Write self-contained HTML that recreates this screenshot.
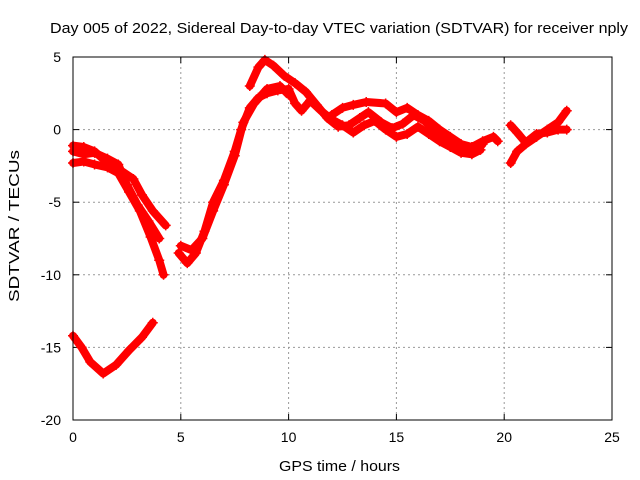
<!DOCTYPE html>
<html><head><meta charset="utf-8"><style>
body{margin:0;background:#fff}
svg{display:block;font-family:"Liberation Sans",sans-serif}
</style></head><body>
<svg id="chart" width="640" height="480">
<text x="50" y="33" font-size="15" textLength="578" lengthAdjust="spacingAndGlyphs">Day 005 of 2022, Sidereal Day-to-day VTEC variation (SDTVAR) for receiver nply</text>
<text x="279" y="471" font-size="15" textLength="121" lengthAdjust="spacingAndGlyphs">GPS time / hours</text>
<text transform="translate(19,302) rotate(-90)" font-size="15" textLength="152" lengthAdjust="spacingAndGlyphs">SDTVAR / TECUs</text>
<g id="grid"></g><g id="ticks"></g><g id="marks"></g>
<rect x="73" y="57" width="539" height="363" fill="none" stroke="#000" stroke-width="1"/>
</svg>
<script>
const xTicks=[0,5,10,15,20,25];
const yTicks=[5,0,-5,-10,-15,-20];
const trackA=[[0,-14.2],[0.4,-15],[0.8,-16],[1.4,-16.8],[2,-16.2],[2.6,-15.2],[3.2,-14.3],[3.7,-13.3]];
const trackB=[[0,-1.1],[0.5,-1.2],[1,-1.5],[1.6,-2.3],[2.2,-2.8],[2.8,-3.4],[3.2,-4.5],[3.7,-5.6],[4.3,-6.6]];
const trackB2=[[0,-2.3],[0.5,-2.2],[1,-2.4],[1.6,-2.6],[2.1,-3],[2.6,-4.3],[3.1,-5.6],[3.6,-7.4],[4.0,-9],[4.2,-10]];
const trackB3=[[0,-1.5],[0.5,-1.7],[1,-1.6],[1.6,-2],[2.1,-2.4],[2.5,-3.8],[3,-5.2],[3.5,-6.3],[4,-7.5]];
const trackD=[[4.9,-8.5],[5.3,-9.2],[5.7,-8.5],[6.1,-7],[6.5,-5],[7,-3.5],[7.5,-1.5],[7.8,0],[8.2,1.5],[8.6,2.2],[9,2.5],[9.5,2.7],[10,2.8],[10.3,1.8],[10.6,1.3],[11,2],[11.5,1.3],[12,0.7],[12.5,0.3],[13,-0.2],[13.5,0.3],[14,0.6],[14.5,0],[15,-0.5],[15.5,-0.3],[16,0.2],[16.5,-0.3],[17,-0.8],[17.5,-1.2],[18,-1.6],[18.5,-1.7],[18.9,-1.4]];
const trackD2=[[5,-8],[5.5,-8.3],[6,-7.5],[6.5,-5.6],[7,-3.8],[7.5,-1.8],[7.9,0.5],[8.4,1.8],[9,2.8],[9.6,3],[10,2.4]];
const trackC=[[8.2,3],[8.6,4.3],[8.9,4.8],[9.3,4.4],[9.8,3.7],[10.3,3.2],[10.8,2.6],[11.3,1.7],[11.8,0.8],[12.3,0.2],[12.8,0.3],[13.3,0.8],[13.7,1.2],[14.3,0.5],[14.8,0.1],[15.3,0.4],[15.8,1],[16.3,0.6],[16.8,-0.1],[17.3,-0.7],[17.8,-1.2],[18.3,-1.5],[18.8,-1.3],[19,-1]];
const trackE=[[12,1],[12.5,1.5],[13,1.7],[13.6,1.9],[14.5,1.8],[15,1.2],[15.5,1.5],[16,1],[16.5,0.6],[17,0],[17.5,-0.5],[18,-1],[18.5,-1.2],[19,-0.8],[19.5,-0.5],[19.7,-0.8]];
const trackF=[[20.3,-2.3],[20.6,-1.5],[21,-1],[21.5,-0.5],[22,0],[22.5,0.5],[22.9,1.3]];
const trackG=[[20.3,0.3],[20.6,-0.2],[21,-0.9],[21.5,-0.3],[22,-0.2],[22.5,0],[22.9,0]];
const tracks=[trackA,trackB,trackB2,trackB3,trackD,trackD2,trackC,trackE,trackF,trackG];
const NS='http://www.w3.org/2000/svg';
const X=h=>73+h*539/25, Y=v=>57+(5-v)*363/25;
const g=document.getElementById('grid'),t=document.getElementById('ticks'),m=document.getElementById('marks');
function el(n,a,p){const e=document.createElementNS(NS,n);for(const k in a)e.setAttribute(k,a[k]);p.appendChild(e);return e;}
xTicks.forEach(v=>{const x=X(v);
 if(v>0&&v<25){const l=el('line',{x1:x,x2:x,y1:57,y2:420,stroke:'#999','stroke-dasharray':'2,3'},g);}
 el('line',{x1:x,x2:x,y1:420,y2:414,stroke:'#000'},t);el('line',{x1:x,x2:x,y1:57,y2:63,stroke:'#000'},t);
 const tx=el('text',{x:x,y:442,'font-size':14,'text-anchor':'middle'},t);tx.textContent=v;
 });
yTicks.forEach(v=>{const y=Y(v);
 if(v<5&&v>-20){const l=el('line',{x1:73,x2:612,y1:y,y2:y,stroke:'#999','stroke-dasharray':'2,3'},g);}
 el('line',{x1:73,x2:79,y1:y,y2:y,stroke:'#000'},t);el('line',{x1:612,x2:606,y1:y,y2:y,stroke:'#000'},t);
 const tx=el('text',{x:61,y:y+5,'font-size':14,'text-anchor':'end'},t);tx.textContent=v;
 });
tracks.forEach((tr,i)=>{
 const p=el('polyline',{points:tr.map(d=>X(d[0])+','+Y(d[1])).join(' '),fill:'none',stroke:'#f00','stroke-width':8,'stroke-linejoin':'round','stroke-linecap':'round'},m);
 
 
 tr.forEach(d=>{const x=X(d[0]),y=Y(d[1]);
  const c=el('path',{d:`M${x-5},${y}H${x+5}M${x},${y-5}V${y+5}`,stroke:'#f00','stroke-width':1.5},m);
  
  });
});
</script>
</body></html>
